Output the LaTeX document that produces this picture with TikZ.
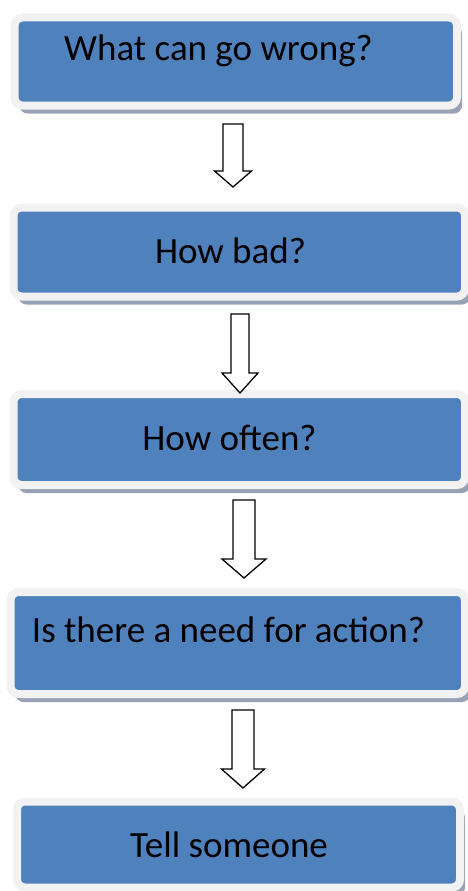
\documentclass[tikz,border=0pt]{standalone}
\usepackage{fontspec}
\setmainfont{Carlito}
\usetikzlibrary{shadows}

\definecolor{boxblue}{HTML}{4F81BD}
\definecolor{boxrim}{HTML}{F2F2F2}
\definecolor{boxshade}{HTML}{98A2B4}

\tikzset{
	stepbox/.style={fill=boxblue, draw=boxrim, line width=8pt, rounded corners=8pt, inner sep=0pt,
		drop shadow={shadow xshift=5pt, shadow yshift=-8pt, fill=boxshade, opacity=1}},
	qtext/.style={anchor=base, font=\fontsize{37}{41}\selectfont},
	blockarrow/.style={line width=1.3pt, fill=white, line join=miter}
}

\begin{document}
\begin{tikzpicture}[x=1pt, y=-1pt, line join=round, line cap=round]
	\useasboundingbox (0,0) rectangle (467,891);
	
	% Hộp
	\foreach \n/\cx/\cy/\w/\h in {1/235.75/61.5/442.5/88, 2/239.25/252/451.5/89, 3/239.25/439.5/451.5/91, 4/237.75/643/454.5/102, 5/238.5/844.5/443/86} {
		\node[stepbox, minimum width=\w pt, minimum height=\h pt] (b\n) at (\cx, \cy) {};
	}
	
	% Chữ
	\node[qtext] (t1) at (218.5, 60) {What can go wrong?};
	\node[qtext] (t2) at (230.5, 263) {How bad?};
	\node[qtext] (t3) at (229.5, 450) {How often?};
	\node[qtext] (t4) at (228.5, 642) {Is there a need for action?};
	\node[qtext] (t5) at (229, 857) {Tell someone};
	
	% Mũi tên
	\foreach \cx/\ty/\hy/\py/\sw/\hw in {233/124/171/187/10/18.5, 240/314/373/393/9/18, 244/500/559/578/11/22, 243/710/769/788/11/21.5} {
		\draw[blockarrow] (\cx-\sw, \ty) -- (\cx+\sw, \ty) -- (\cx+\sw, \hy) -- (\cx+\hw, \hy) -- (\cx, \py) -- (\cx-\hw, \hy) -- (\cx-\sw, \hy) -- cycle;
	}
\end{tikzpicture}
\end{document}
